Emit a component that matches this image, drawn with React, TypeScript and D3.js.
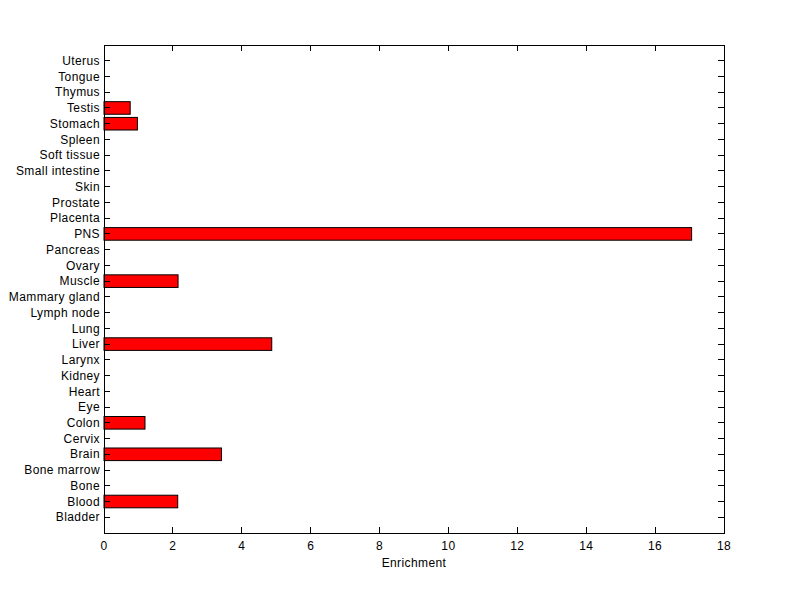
import React from "react";
import * as d3 from "d3";

const categories = ["Bladder","Blood","Bone","Bone marrow","Brain","Cervix","Colon","Eye","Heart","Kidney","Larynx","Liver","Lung","Lymph node","Mammary gland","Muscle","Ovary","Pancreas","PNS","Placenta","Prostate","Skin","Small intestine","Soft tissue","Spleen","Stomach","Testis","Thymus","Tongue","Uterus"];
const values = [0,2.14,0,0,3.41,0,1.19,0,0,0,0,4.87,0,0,0,2.15,0,0,17.06,0,0,0,0,0,0,0.97,0.76,0,0,0];
const xTicks = [0,2,4,6,8,10,12,14,16,18];
const xLabel = "Enrichment";

export default function App() {
  const W = 800, H = 599;
  const left = 104, right = 724, top = 45, bottom = 533;
  const x = d3.scaleLinear().domain([0, 18]).range([left, right]);
  const y = d3.scaleLinear().domain([0, categories.length + 1]).range([bottom, top]);
  const bw = (y(0) - y(0.8));
  const tl = 6;
  const font = "Liberation Sans, Arial, Helvetica, sans-serif";
  const ls = 0.4;
  return (
    <svg width={W} height={H} style={{ position: "absolute", left: 0, top: 0, background: "#fff" }}>
      <rect x={0} y={0} width={W} height={H} fill="#fff" />
      {categories.map((c, i) => values[i] > 0 ? (
        <rect key={c} x={x(0)} y={y(i + 1) - bw / 2} width={x(values[i]) - x(0)} height={bw}
          fill="#ff0000" stroke="#000" strokeWidth={1} />
      ) : null)}
      <rect x={left} y={top} width={right - left} height={bottom - top} fill="none" stroke="#000" strokeWidth={1} shapeRendering="crispEdges" />
      {categories.map((c, i) => (
        <g key={c}>
          <line x1={left} x2={left + tl} y1={y(i + 1)} y2={y(i + 1)} stroke="#000" shapeRendering="crispEdges" />
          <line x1={right} x2={right - tl} y1={y(i + 1)} y2={y(i + 1)} stroke="#000" shapeRendering="crispEdges" />
          <text x={left - 4} y={y(i + 1)} dy="0.35em" textAnchor="end" fontSize={12} letterSpacing={ls} fontFamily={font} fill="#000">{c}</text>
        </g>
      ))}
      {xTicks.map(t => (
        <g key={t}>
          <line x1={x(t)} x2={x(t)} y1={bottom} y2={bottom - tl} stroke="#000" shapeRendering="crispEdges" />
          <line x1={x(t)} x2={x(t)} y1={top} y2={top + tl} stroke="#000" shapeRendering="crispEdges" />
          <text x={x(t)} y={bottom + 17} textAnchor="middle" fontSize={12} letterSpacing={ls} fontFamily={font} fill="#000">{t}</text>
        </g>
      ))}
      <text x={(left + right) / 2} y={bottom + 34} textAnchor="middle" fontSize={12} letterSpacing={ls} fontFamily={font} fill="#000">{xLabel}</text>
    </svg>
  );
}
